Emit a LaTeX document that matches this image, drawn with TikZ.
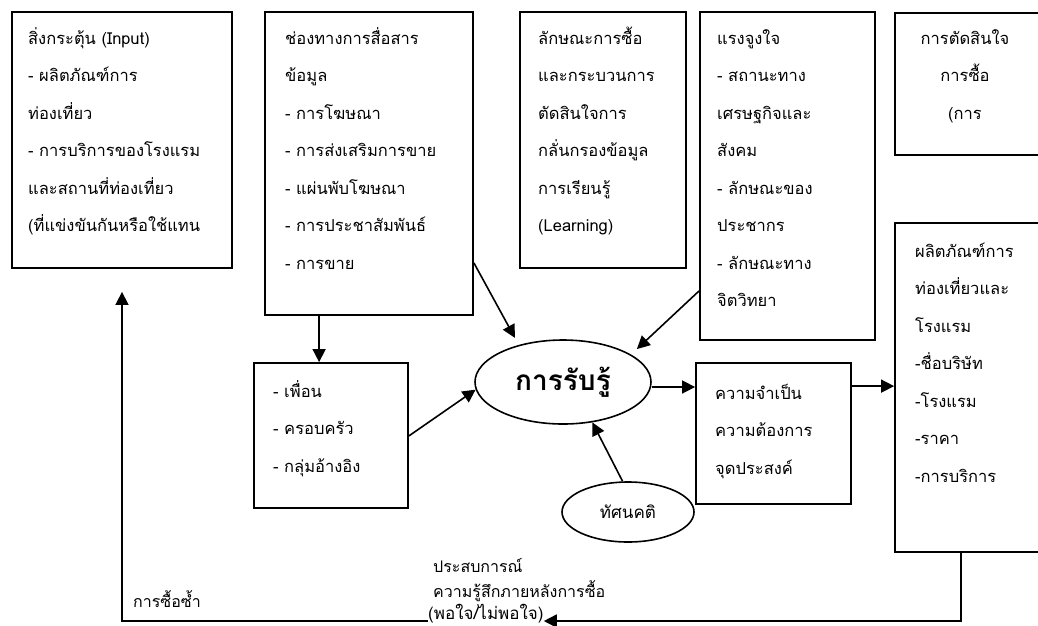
\documentclass[tikz,border=0pt]{standalone}
\usepackage{fontspec}
\newfontfamily\thaifont[Script=Thai]{Loma}
\usetikzlibrary{arrows.meta,shapes.geometric}

\tikzset{
  box/.style={draw, line width=1.8pt, inner sep=0pt},
  boxtext/.style={anchor=north west, inner sep=0pt, align=left,
    font=\thaifont\fontsize{16.5}{37.5}\selectfont},
  note/.style={inner sep=0pt, align=left,
    font=\thaifont\fontsize{16}{25}\selectfont},
  link/.style={line width=1.6pt, -{Triangle[length=13pt,width=13pt]}},
}
\newcommand\firstline{\rule{0pt}{20pt}}

\begin{document}
\begin{tikzpicture}[x=1pt,y=-1pt]
      \useasboundingbox (0,0) rectangle (1038,625);
      \clip (0,0) rectangle (1038,625);

      %%%%%%%%%%%%%%%%%%%%%%%%%%%%%%%%%%%%%%%%%%%%%%%%%%%%%%%%%%%%%%%%%%%%%%%%%%%
      %%%%  Top row of boxes
      \node[box, minimum width=220, minimum height=256] (input)   at (122,140) {};
      \node[box, minimum width=208, minimum height=303] (channel) at (369,163.5) {};
      \node[box, minimum width=166, minimum height=256] (learn)   at (603,140) {};
      \node[box, minimum width=175, minimum height=328] (motive)  at (787.5,176) {};
      \node[box, minimum width=150, minimum height=142] (decide)  at (970,84) {};

      \node[boxtext] (inputtext) at (28,24) {\firstline สิ่งกระตุ้น (Input)\\
        - ผลิตภัณฑ์การ\\ ท่องเที่ยว\\ - การบริการของโรงแรม\\
        และสถานที่ท่องเที่ยว\\ (ที่แข่งขันกันหรือใช้แทน};
      \node[boxtext] (channeltext) at (285,24) {\firstline ช่องทางการสื่อสาร\\
        ข้อมูล\\ - การโฆษณา\\ - การส่งเสริมการขาย\\ - แผ่นพับโฆษณา\\
        - การประชาสัมพันธ์\\ - การขาย};
      \node[boxtext] (learntext) at (538,24) {\firstline ลักษณะการซื้อ\\
        และกระบวนการ\\ ตัดสินใจการ\\ กลั่นกรองข้อมูล\\ การเรียนรู้\\ (Learning)};
      \node[boxtext] (motivetext) at (717,24) {\firstline แรงจูงใจ\\
        - สถานะทาง\\ เศรษฐกิจและ\\ สังคม\\ - ลักษณะของ\\ ประชากร\\
        - ลักษณะทาง\\ จิตวิทยา};
      \node[boxtext, anchor=north, align=center] (decidetext) at (965,24)
        {\firstline การตัดสินใจ\\ การซื้อ\\ (การ};

      %%%%%%%%%%%%%%%%%%%%%%%%%%%%%%%%%%%%%%%%%%%%%%%%%%%%%%%%%%%%%%%%%%%%%%%%%%%
      %%%%  Middle row
      \node[box, minimum width=154, minimum height=145] (social)  at (331,435.5) {};
      \node[box, minimum width=155, minimum height=141] (needs)   at (773.5,433.5) {};
      \node[box, minimum width=150, minimum height=329] (product) at (970,387.5) {};

      \node[boxtext] (socialtext) at (273,377) {\firstline - เพื่อน\\
        - ครอบครัว\\ - กลุ่มอ้างอิง};
      \node[boxtext] (needstext) at (715,379) {\firstline ความจำเป็น\\
        ความต้องการ\\ จุดประสงค์};
      \node[boxtext] (producttext) at (915,237) {\firstline ผลิตภัณฑ์การ\\
        ท่องเที่ยวและ\\ โรงแรม\\ -ชื่อบริษัท\\ -โรงแรม\\ -ราคา\\ -การบริการ};

      \node[draw, ellipse, line width=1.6pt, inner sep=0pt,
        minimum width=176, minimum height=84,
        font=\thaifont\bfseries\fontsize{28}{32}\selectfont] (perc) at (563,382) {การรับรู้};
      \node[draw, ellipse, line width=1.6pt, inner sep=0pt,
        minimum width=132, minimum height=60,
        font=\thaifont\fontsize{17}{20}\selectfont] (att) at (628,512) {ทัศนคติ};

      %%%%%%%%%%%%%%%%%%%%%%%%%%%%%%%%%%%%%%%%%%%%%%%%%%%%%%%%%%%%%%%%%%%%%%%%%%%
      %%%%  Bottom labels
      \node[note, anchor=north west] (exp) at (433,554)
        {\rule{0pt}{18pt}ประสบการณ์\\ ความรู้สึกภายหลังการซื้อ};
      \node[note, anchor=base west, font=\thaifont\fontsize{17}{25}\selectfont]
        (exp3) at (428,619) {(พอใจ/ไม่พอใจ)};
      \node[note, anchor=base west] (rebuy) at (133,607) {การซื้อซ้ำ};

      %%%%%%%%%%%%%%%%%%%%%%%%%%%%%%%%%%%%%%%%%%%%%%%%%%%%%%%%%%%%%%%%%%%%%%%%%%%
      %%%%  Arrows
      \draw[link] ([xshift=55pt]channel.south west)
        -- ([xshift=55pt]channel.south west |- social.north);
      \draw[link, shorten >=8pt] ([yshift=53pt]channel.south east) -- (perc.140);
      \draw[link, shorten >=8pt] ([yshift=50pt]motive.south west) -- (perc.22);
      \draw[link] ([yshift=73pt]social.south east) -- (perc.185);
      \draw[link] ([yshift=-5pt]perc.east) -- ([yshift=-5pt]perc.east -| needs.west);
      \draw[link] ([yshift=-24pt]needs.north east)
        -- ([yshift=-24pt]needs.north east -| product.west);
      \draw[link] (att.100) -- (perc.-54);

      % feedback loop
      \coordinate (back) at (961,621);
      \draw[link] (product.south -| back) -- (back) -- (back -| exp3.east);
      \draw[link, shorten >=23pt] (exp3.west |- back) -| (input.south);
\end{tikzpicture}
\end{document}
